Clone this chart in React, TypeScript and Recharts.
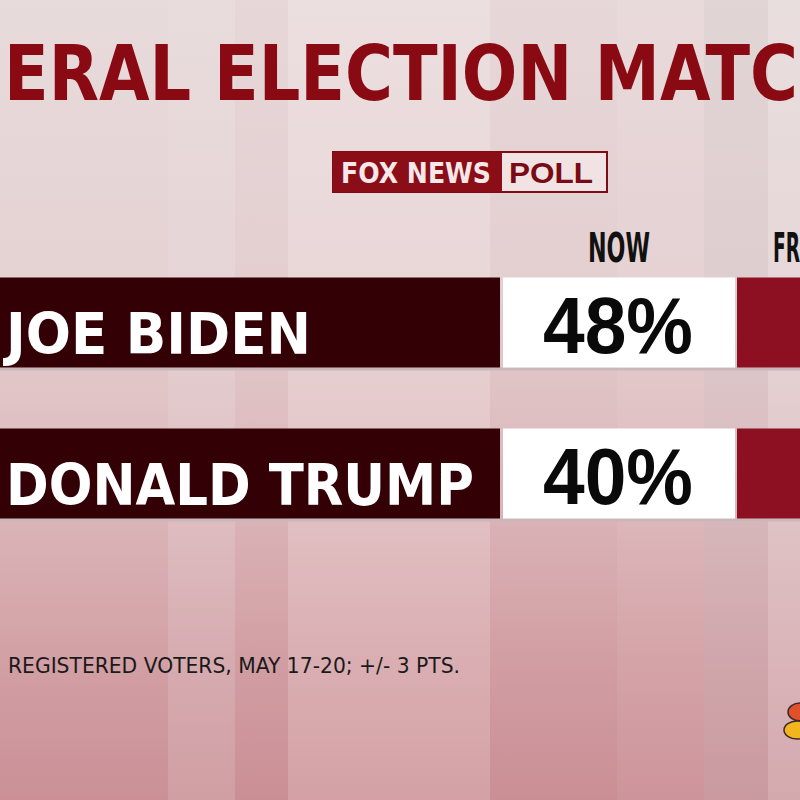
import { BarChart, Bar, XAxis, YAxis } from 'recharts'

// poll values
const CANDIDATES = ['JOE BIDEN', 'DONALD TRUMP']
const NOW = [48, 40]
const NAME_WIDTHS = [305, 468]

const TITLE = 'ERAL ELECTION MATC'
const FOOTNOTE = 'REGISTERED VOTERS, MAY 17-20; +/- 3 PTS.'

const data = CANDIDATES.map((name, i) => ({ name, now: NOW[i], nameWidth: NAME_WIDTHS[i] }))

const STRIPES =
  'linear-gradient(to right,' +
  'rgba(255,255,255,0) 0px, rgba(255,255,255,0) 168px,' +
  'rgba(235,225,228,0.18) 168px, rgba(235,225,228,0.18) 235px,' +
  'rgba(200,120,130,0.04) 235px, rgba(200,120,130,0.04) 288px,' +
  'rgba(255,240,240,0.18) 288px, rgba(255,240,240,0.18) 490px,' +
  'rgba(190,110,120,0.03) 490px, rgba(190,110,120,0.03) 617px,' +
  'rgba(240,205,212,0.08) 617px, rgba(240,205,212,0.08) 704px,' +
  'rgba(200,190,195,0.22) 704px, rgba(200,190,195,0.22) 768px,' +
  'rgba(235,228,230,0.3) 768px, rgba(235,228,230,0.3) 800px)'

const BG = 'linear-gradient(to bottom, #e8dbdb 0%, #e5d2d3 35%, #dcb8bb 62%, #d2a0a5 82%, #ca9096 100%)'

const RowShape = (props: any) => {
  const { y, height, payload } = props
  return (
    <g>
      <rect x={0} y={y + height} width={800} height={3} fill="#c9b7b9" />
      <rect x={0} y={y} width={500} height={height} fill="#330006" />
      <rect x={503} y={y} width={232} height={height} fill="#ffffff" />
      <rect x={737} y={y} width={70} height={height} fill="#8c1022" />
      <text
        x={6}
        y={y + 76}
        fill="#ffffff"
        fontFamily="'DejaVu Sans', sans-serif"
        fontWeight={700}
        fontSize={57}
        textLength={payload.nameWidth}
        lengthAdjust="spacingAndGlyphs"
      >
        {payload.name}
      </text>
      <text
        x={618}
        y={y + 75}
        textAnchor="middle"
        fill="#0a0a0a"
        fontFamily="'Liberation Sans', Arial, sans-serif"
        fontWeight={700}
        fontSize={79}
        textLength={150}
        lengthAdjust="spacingAndGlyphs"
      >
        {payload.now}%
      </text>
    </g>
  )
}

export default function App() {
  return (
    <div
      style={{
        position: 'relative',
        width: 800,
        height: 800,
        overflow: 'hidden',
        background: `${STRIPES}, ${BG}`,
      }}
    >
      <style>{'body{margin:0}'}</style>
      <BarChart
        width={800}
        height={800}
        data={data}
        layout="vertical"
        margin={{ top: 246.5, right: 0, bottom: 251.5, left: 0 }}
      >
        <XAxis type="number" domain={[0, 100]} hide />
        <YAxis type="category" dataKey="name" hide />
        <Bar dataKey="now" barSize={90} shape={RowShape} isAnimationActive={false} />
      </BarChart>
      <svg
        width={800}
        height={800}
        style={{ position: 'absolute', left: 0, top: 0, pointerEvents: 'none' }}
      >
        <text
          x={4}
          y={100}
          fill="#8a0a14"
          fontFamily="'DejaVu Sans', sans-serif"
          fontWeight={700}
          fontSize={76}
          textLength={794}
          lengthAdjust="spacingAndGlyphs"
        >
          {TITLE}
        </text>

        {/* logo */}
        <rect x={333} y={152} width={274} height={40} fill="#f1e3e3" stroke="#7d0c16" strokeWidth={2} />
        <rect x={333} y={152} width={169} height={40} fill="#8a0d18" />
        <text
          x={341}
          y={183}
          fill="#f6e8e8"
          fontFamily="'DejaVu Sans', sans-serif"
          fontWeight={700}
          fontSize={29}
          textLength={150}
          lengthAdjust="spacingAndGlyphs"
        >
          FOX NEWS
        </text>
        <text
          x={509}
          y={183}
          fill="#7a0a14"
          fontFamily="'Liberation Sans', sans-serif"
          fontWeight={700}
          fontSize={30}
          textLength={84}
          lengthAdjust="spacingAndGlyphs"
        >
          POLL
        </text>

        {/* column headers */}
        <text
          x={588}
          y={262}
          fill="#111111"
          fontFamily="'Liberation Sans Narrow', 'DejaVu Sans', sans-serif"
          fontWeight={700}
          fontSize={40}
          textLength={62}
          lengthAdjust="spacingAndGlyphs"
        >
          NOW
        </text>
        <text
          x={773}
          y={262}
          fill="#111111"
          fontFamily="'Liberation Sans Narrow', 'DejaVu Sans', sans-serif"
          fontWeight={700}
          fontSize={40}
          textLength={27}
          lengthAdjust="spacingAndGlyphs"
        >
          FR
        </text>

        <text
          x={8}
          y={673}
          fill="#1a1a1a"
          fontFamily="'DejaVu Sans', sans-serif"
          fontSize={22}
          textLength={452}
          lengthAdjust="spacingAndGlyphs"
        >
          {FOOTNOTE}
        </text>

        {/* network bug */}
        <g stroke="#3a2a2a" strokeWidth={1.5}>
          <ellipse cx={800} cy={712} rx={12} ry={9} fill="#e0502a" />
          <ellipse cx={797} cy={730} rx={13} ry={9} fill="#f2b51e" />
        </g>
      </svg>
    </div>
  )
}
